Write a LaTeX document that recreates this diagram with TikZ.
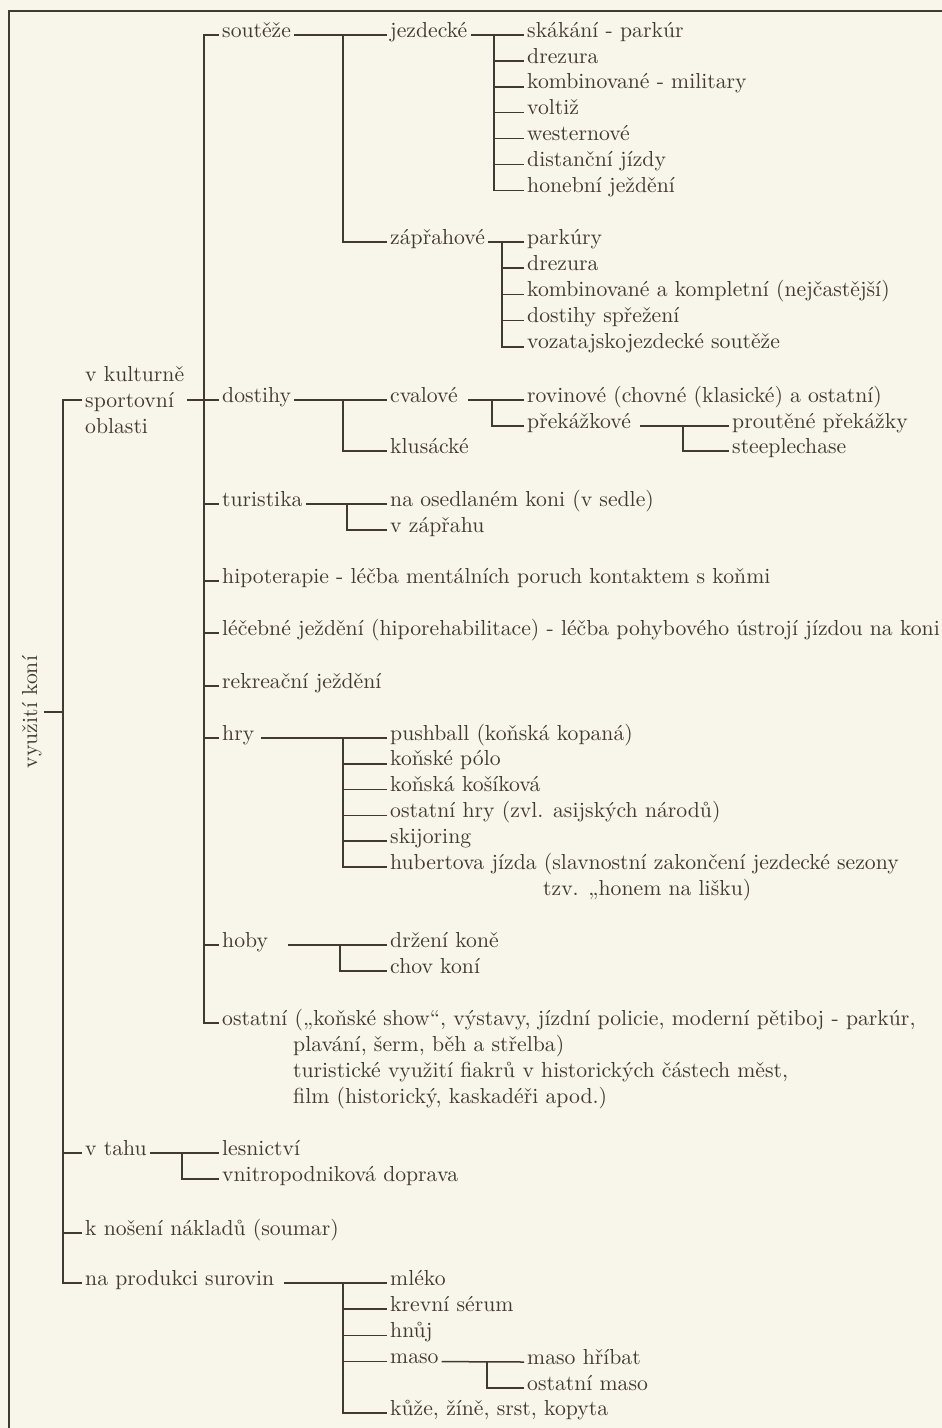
\documentclass[tikz,border=0pt]{standalone}
\usepackage{fontspec}
\usepackage{xcolor}
\newfontfamily\chartfont{lmroman10-regular.otf}

\definecolor{ink}{HTML}{3F3A33}
\definecolor{paper}{HTML}{F8F6EA}
\definecolor{frameline}{HTML}{3E3A34}

\tikzset{
  item/.style={anchor=mid west, inner xsep=3pt, inner ysep=1pt, text=ink,
    font=\chartfont\fontsize{21.7}{26}\selectfont},
  link/.style={draw=ink, line width=1.5pt},
}

\begin{document}
\begin{tikzpicture}[x=1pt, y=-1pt]
\fill[paper] (0,0) rectangle (942,1428);
\useasboundingbox (0,0) rectangle (942,1428);
\draw[frameline, line width=2pt] (8.5,1428) -- (8.5,11) -- (942,11);

% root and first level
\node[item, rotate=90, anchor=base, inner sep=2pt] (root) at (37,712) {využití koní};
\coordinate (s0) at (63,712);
\draw[link] (root.south) -- (s0);
\node[item, align=left, anchor=west] (kult) at (82,400) {v kulturně\\sportovní\\oblasti};
\node[item] (tah) at (82,1153) {v tahu};
\node[item] (nos) at (82,1233) {k nošení nákladů (soumar)};
\node[item] (prod) at (82,1283) {na produkci surovin};
\coordinate (s1) at (204,400);
\draw[link] (s0) |- (kult.west |- s1);
\foreach \n in {tah,nos,prod} \draw[link] (s0) |- (\n.mid west);
\draw[link] (kult.east |- s1) -- (s1);

% second level
\node[item] (sout) at (219,35) {soutěže};
\node[item] (dost) at (219,400) {dostihy};
\node[item] (tur) at (219,504) {turistika};
\node[item] (hipo) at (219,581) {hipoterapie - léčba mentálních poruch kontaktem s koňmi};
\node[item] (lecb) at (219,633) {léčebné ježdění (hiporehabilitace) - léčba pohybového ústrojí jízdou na koni};
\node[item] (rekr) at (219,686) {rekreační ježdění};
\node[item] (hry) at (219,738) {hry};
\node[item] (hoby) at (219,945) {hoby};
\node[item] (ost) at (219,1023) {ostatní („koňské show“, výstavy, jízdní policie, moderní pětiboj - parkúr,};
\foreach \t [count=\i from 2] in {{plavání, šerm, běh a střelba)},
    {turistické využití fiakrů v historických částech měst,},
    {film (historický, kaskadéři apod.)}}
  \node[item] (ost\i) at (290,{1023+26*(\i-1)}) {\t};
\foreach \n in {sout,dost,tur,hipo,lecb,rekr,hry,hoby,ost} \draw[link] (s1) |- (\n.mid west);

% soutěže
\node[item] (jezd) at (387,35) {jezdecké};
\node[item] (zapr) at (387,242) {zápřahové};
\coordinate (bsout) at (343,35);
\draw[link] (sout.mid east) -- (jezd.mid west);
\draw[link] (bsout) |- (zapr.mid west);

\foreach \t [count=\i] in {skákání - parkúr, drezura, kombinované - military, voltiž,
    westernové, distanční jízdy, honební ježdění}
  \node[item] (jz\i) at (524,{35+25.9*(\i-1)}) {\t};
\coordinate (bjezd) at (494,35);
\draw[link] (jezd.mid east) -- (jz1.mid west);
\foreach \i in {2,...,7} \draw[link] (bjezd) |- (jz\i.mid west);

\foreach \t [count=\i] in {parkúry, drezura, kombinované a kompletní (nejčastější),
    dostihy spřežení, vozatajskojezdecké soutěže}
  \node[item] (zp\i) at (524,{242+26.2*(\i-1)}) {\t};
\coordinate (bzapr) at (502,242);
\draw[link] (zapr.mid east) -- (zp1.mid west);
\foreach \i in {2,...,5} \draw[link] (bzapr) |- (zp\i.mid west);

% dostihy
\node[item] (cval) at (387,400) {cvalové};
\node[item] (klus) at (387,451) {klusácké};
\coordinate (bdost) at (343,400);
\draw[link] (dost.mid east) -- (cval.mid west);
\draw[link] (bdost) |- (klus.mid west);

\node[item] (rov) at (524,400) {rovinové (chovné (klasické) a ostatní)};
\node[item] (prek) at (524,426) {překážkové};
\coordinate (bcval) at (492,400);
\draw[link] ([xshift=7pt]cval.mid east) -- (rov.mid west);
\draw[link] (bcval) |- (prek.mid west);

\node[item] (prou) at (729,426) {proutěné překážky};
\node[item] (steep) at (729,451) {steeplechase};
\coordinate (bprek) at (683,426);
\draw[link] ([xshift=6pt]prek.mid east) -- (prou.mid west);
\draw[link] (bprek) |- (steep.mid west);

% turistika
\node[item] (osed) at (387,504) {na osedlaném koni (v sedle)};
\node[item] (vzap) at (387,530) {v zápřahu};
\coordinate (btur) at (347,504);
\draw[link] (tur.mid east) -- (osed.mid west);
\draw[link] (btur) |- (vzap.mid west);

% hry
\foreach \t [count=\i] in {pushball (koňská kopaná), koňské pólo, koňská košíková,
    ostatní hry (zvl. asijských národů), skijoring,
    hubertova jízda (slavnostní zakončení jezdecké sezony}
  \node[item] (hr\i) at (387,{738+25.8*(\i-1)}) {\t};
\node[item] (hr7) at (540,893) {tzv. „honem na lišku)};
\coordinate (bhry) at (343,738);
\draw[link] ([xshift=4pt]hry.mid east) -- (hr1.mid west);
\foreach \i in {2,...,6} \draw[link] (bhry) |- (hr\i.mid west);

% hoby
\node[item] (drz) at (387,945) {držení koně};
\node[item] (chov) at (387,971) {chov koní};
\coordinate (bhoby) at (340,945);
\draw[link] ([xshift=17pt]hoby.mid east) -- (drz.mid west);
\draw[link] (bhoby) |- (chov.mid west);

% v tahu
\node[item] (les) at (219,1153) {lesnictví};
\node[item] (vnit) at (219,1179) {vnitropodniková doprava};
\coordinate (btah) at (182,1153);
\draw[link] (tah.mid east) -- (les.mid west);
\draw[link] (btah) |- (vnit.mid west);

% na produkci surovin
\foreach \t [count=\i] in {mléko, krevní sérum, hnůj, maso}
  \node[item] (pr\i) at (387,{1283+26.2*(\i-1)}) {\t};
\node[item] (pr5) at (387,1413) {kůže, žíně, srst, kopyta};
\coordinate (bprod) at (343,1283);
\draw[link] ([xshift=7pt]prod.mid east) -- (pr1.mid west);
\foreach \i in {2,...,5} \draw[link] (bprod) |- (pr\i.mid west);

\node[item] (mhr) at (524,1362) {maso hříbat};
\node[item] (most) at (524,1388) {ostatní maso};
\coordinate (bmaso) at (487,1362);
\draw[link] (pr4.mid east) -- (mhr.mid west);
\draw[link] (bmaso) |- (most.mid west);
\end{tikzpicture}
\end{document}
